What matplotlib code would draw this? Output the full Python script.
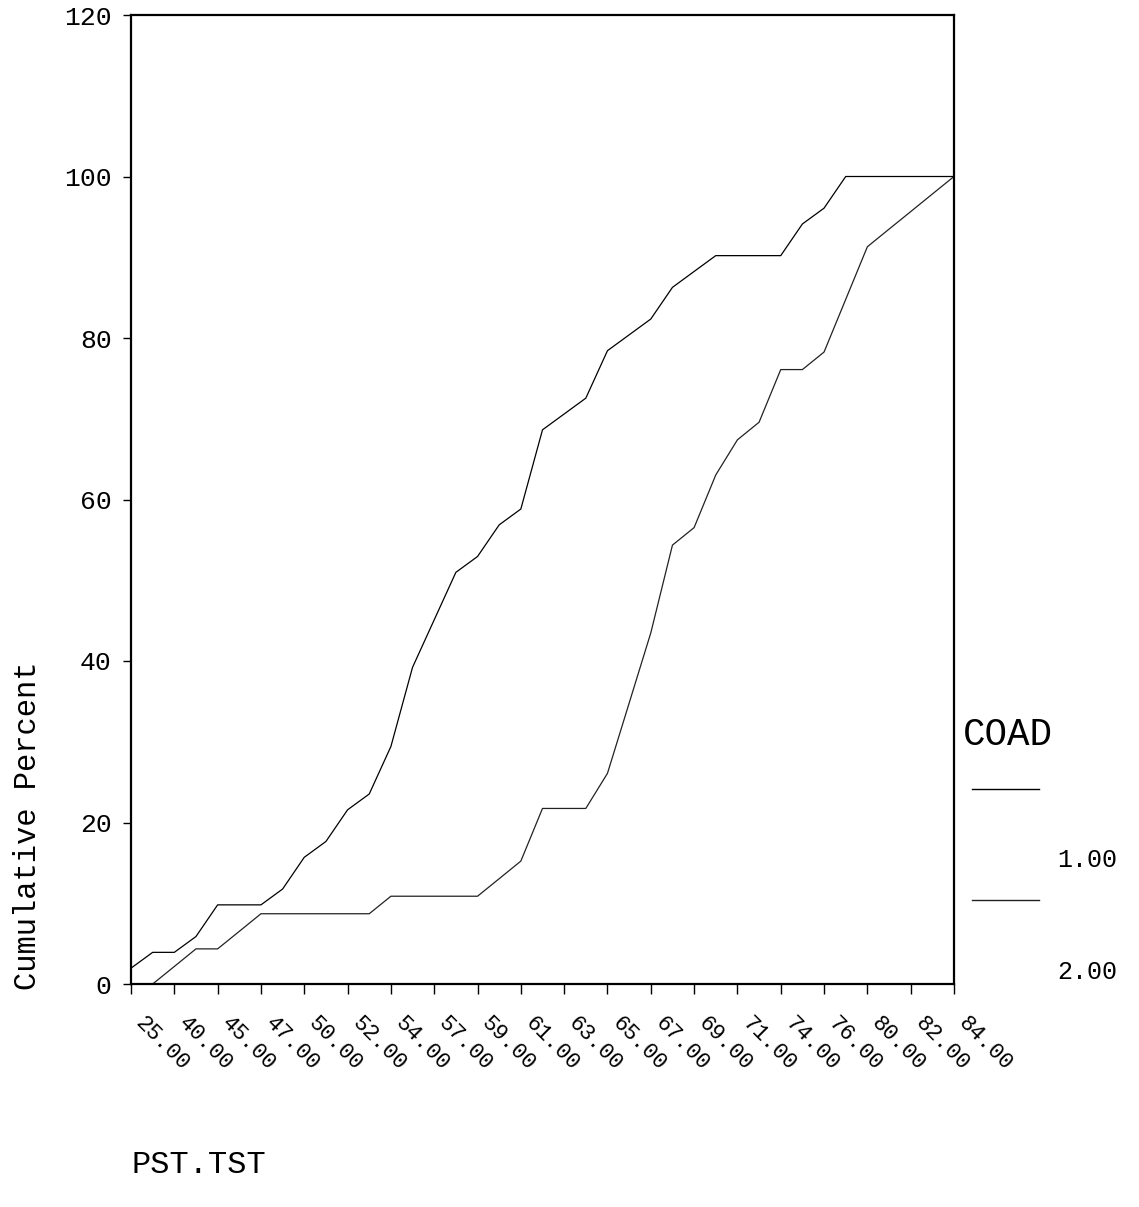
import numpy as np
import matplotlib
matplotlib.use("Agg")
import matplotlib.pyplot as plt
from matplotlib.lines import Line2D

# ---- data (cumulative percent by PST.TST category, for each COAD group) ----
tick_labels = ["25.00", "40.00", "45.00", "47.00", "50.00", "52.00", "54.00",
               "57.00", "59.00", "61.00", "63.00", "65.00", "67.00", "69.00",
               "71.00", "74.00", "76.00", "80.00", "82.00", "84.00"]

coad_groups = ["1.00", "2.00"]

cum_coad1 = [1.96, 3.92, 3.92, 5.88, 9.80, 9.80, 9.80, 11.76, 15.69, 17.65,
             21.57, 23.53, 29.41, 39.22, 45.10, 50.98, 52.94, 56.86, 58.82, 68.63,
             70.59, 72.55, 78.43, 80.39, 82.35, 86.27, 88.24, 90.20, 90.20, 90.20,
             90.20, 94.12, 96.08, 100.0, 100.0, 100.0, 100.0, 100.0, 100.0]

cum_coad2 = [0.0, 0.0, 2.17, 4.35, 4.35, 6.52, 8.70, 8.70, 8.70, 8.70,
             8.70, 8.70, 10.87, 10.87, 10.87, 10.87, 10.87, 13.04, 15.22, 21.74,
             21.74, 21.74, 26.09, 34.78, 43.48, 54.35, 56.52, 63.04, 67.39, 69.57,
             76.09, 76.09, 78.26, 84.78, 91.30, 93.48, 95.65, 97.83, 100.0]

yticks = [0, 20, 40, 60, 80, 100, 120]

# ---- figure ----
W, H = 1139, 1207
fig = plt.figure(figsize=(W / 100, H / 100), dpi=100)
font = ["Liberation Mono", "DejaVu Sans Mono"]

ax = fig.add_axes([131 / W, 1 - 984 / H, (954 - 131) / W, (984 - 15) / H])

x = np.arange(len(cum_coad1))
ax.plot(x, cum_coad1, color="black", lw=0.9)
ax.plot(x, cum_coad2, color="#222222", lw=0.9)

ax.set_xlim(0, len(cum_coad1) - 1)
ax.set_ylim(0, 120)

for s in ax.spines.values():
    s.set_linewidth(1.6)
    s.set_color("black")

ax.set_yticks(yticks)
ax.set_yticklabels([str(v) for v in yticks], family=font, fontsize=19)
ax.tick_params(axis="y", direction="out", length=6, width=1.0, pad=8,
               colors="black")

ax.set_xticks(x[::2])
ax.set_xticklabels(tick_labels, family=font, fontsize=16, rotation=-45,
                   ha="left", va="bottom", rotation_mode="anchor")
ax.tick_params(axis="x", direction="out", length=7, width=1.0, pad=24,
               colors="black")

# axis titles
fig.text(28 / W, 1 - 990 / H, "Cumulative Percent", rotation=90,
         ha="center", va="bottom", family=font, fontsize=22)
fig.text(131 / W, 1 - 1165 / H, "PST.TST", ha="left", va="center",
         family=font, fontsize=23)

# legend (drawn manually to mimic the original layout)
fig.text(963 / W, 1 - 735 / H, "COAD", ha="left", va="center",
         family=font, fontsize=27)
leg_y = [789, 900]
lab_y = [860, 972]
leg_colors = ["black", "#222222"]
for g, ly, ty, c in zip(coad_groups, leg_y, lab_y, leg_colors):
    fig.add_artist(Line2D([972 / W, 1039 / W], [1 - ly / H, 1 - ly / H],
                          transform=fig.transFigure, color=c, lw=1.0))
    fig.text(1117 / W, 1 - ty / H, g, ha="right", va="center",
             family=font, fontsize=18)

fig.savefig("out.png", dpi=100, facecolor="white")
